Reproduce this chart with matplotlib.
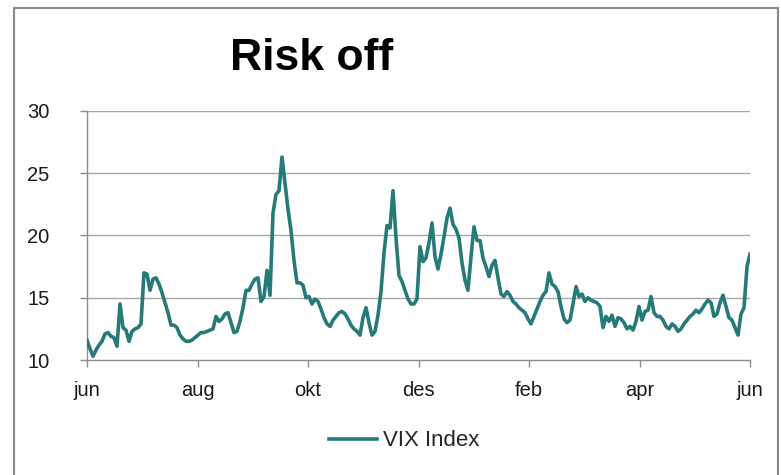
import numpy as np
import matplotlib
matplotlib.use("Agg")
import matplotlib.pyplot as plt
from matplotlib.patches import Rectangle

plt.rcParams['font.family'] = ['Liberation Sans', 'DejaVu Sans']

title = "Risk off"
series_name = "VIX Index"
month_labels = ["jun", "aug", "okt", "des", "feb", "apr", "jun"]
y_ticks = [10, 15, 20, 25, 30]

# VIX closing levels, June to June, evenly spaced in time
vix = [
    11.6, 10.9, 10.3, 10.8, 11.2, 11.5, 12.1, 12.2, 11.9, 11.8,
    11.1, 14.5, 12.6, 12.4, 11.5, 12.3, 12.5, 12.6, 12.9, 17.0,
    16.9, 15.6, 16.5, 16.6, 16.1, 15.4, 14.6, 13.8, 12.8, 12.8,
    12.6, 12.0, 11.7, 11.5, 11.5, 11.6, 11.8, 12.0, 12.2, 12.2,
    12.3, 12.4, 12.5, 13.5, 13.1, 13.3, 13.7, 13.8, 13.0, 12.2,
    12.3, 13.1, 14.2, 15.6, 15.6, 16.1, 16.5, 16.6, 14.7, 15.1,
    17.2, 15.2, 21.8, 23.3, 23.6, 26.3, 24.2, 22.1, 20.4, 18.0,
    16.2, 16.2, 16.0, 15.0, 15.1, 14.5, 14.9, 14.7, 14.1, 13.4,
    12.9, 12.7, 13.2, 13.5, 13.8, 13.9, 13.7, 13.3, 12.8, 12.5,
    12.3, 12.0, 13.4, 14.2, 13.0, 12.0, 12.3, 13.6, 15.5, 18.6,
    20.8, 20.6, 23.6, 19.8, 16.8, 16.3, 15.6, 14.9, 14.5, 14.5,
    14.9, 19.1, 17.9, 18.2, 19.4, 21.0, 18.3, 17.3, 18.5, 19.9,
    21.4, 22.2, 20.9, 20.5, 19.8, 17.8, 16.4, 15.6, 18.3, 20.7,
    19.6, 19.6, 18.2, 17.5, 16.7, 17.6, 18.0, 16.6, 15.3, 15.1,
    15.5, 15.2, 14.7, 14.5, 14.2, 14.0, 13.8, 13.3, 12.9, 13.5,
    14.1, 14.7, 15.2, 15.5, 17.0, 16.1, 15.9, 15.5, 14.3, 13.3,
    13.0, 13.2, 14.5, 15.9, 15.1, 15.3, 14.7, 15.0, 14.8, 14.7,
    14.6, 14.3, 12.6, 13.5, 13.1, 13.6, 12.7, 13.4, 13.3, 13.0,
    12.5, 12.7, 12.4, 13.1, 14.3, 13.2, 13.9, 14.0, 15.1, 13.8,
    13.5, 13.5, 13.2, 12.7, 12.5, 12.9, 12.7, 12.3, 12.5, 12.9,
    13.2, 13.5, 13.7, 14.0, 13.8, 14.1, 14.5, 14.8, 14.6, 13.5,
    13.7, 14.6, 15.2, 14.3, 13.4, 13.2, 12.6, 12.0, 13.7, 14.2,
    17.5, 18.5,
]

line_color = "#267a78"
grid_color = "#a8a8a8"
axis_color = "#8c8c8c"

W, H = 781, 475
fig = plt.figure(figsize=(W / 100, H / 100), dpi=100)
fig.patch.set_facecolor("white")

# outer chart frame (open at the bottom edge)
fig.add_artist(Rectangle((14 / W, -0.05), (778 - 14) / W, 1.05 - 8 / H,
                         transform=fig.transFigure, fill=False,
                         edgecolor="#8a8a8a", linewidth=1.5, zorder=0))

ax = fig.add_axes([87 / W, 1 - 360 / H, (750 - 87) / W, (360 - 111) / H])
x = np.arange(len(vix))
ax.plot(x, vix, color=line_color, linewidth=2.6, solid_joinstyle="round",
        label=series_name, zorder=3)

ax.set_xlim(0, len(vix) - 1)
ax.set_ylim(10, 30)
ax.set_yticks(y_ticks)
ax.set_xticks(np.linspace(0, len(vix) - 1, len(month_labels)))
ax.set_xticklabels(month_labels)

for yv in y_ticks[1:]:
    ax.axhline(yv, color=grid_color, linewidth=1.0, zorder=1)

for side in ["top", "right"]:
    ax.spines[side].set_visible(False)
for side in ["left", "bottom"]:
    ax.spines[side].set_color(axis_color)
    ax.spines[side].set_linewidth(1.0)

ax.tick_params(axis="y", direction="out", length=5, width=1, color=axis_color,
               labelsize=14.5, pad=22, labelcolor="#1a1a1a")
ax.tick_params(axis="x", direction="out", length=5, width=1, color=axis_color,
               labelsize=14.5, pad=10, labelcolor="#1a1a1a")

fig.text(312 / W, 1 - 70 / H, title, fontsize=32, fontweight="bold",
         ha="center", va="baseline", color="black")

fig.legend(loc="center", bbox_to_anchor=(404 / W, 1 - 441 / H), frameon=False,
           fontsize=16, handlelength=2.2, handletextpad=0.25,
           labelcolor="#262626")

fig.savefig("out.png", dpi=100, facecolor="white")
